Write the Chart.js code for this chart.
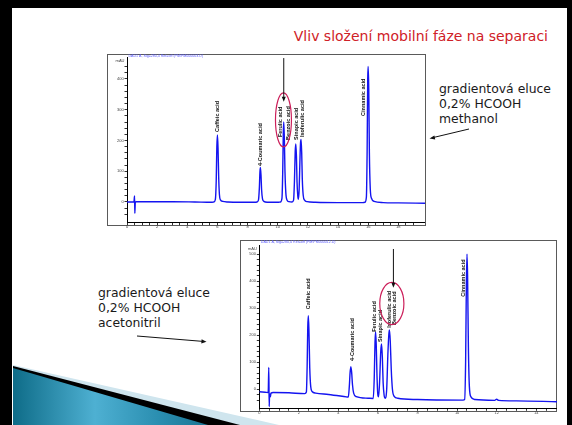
<!DOCTYPE html>
<html>
<head>
<meta charset="utf-8">
<script src="https://cdn.jsdelivr.net/npm/chart.js@4.4.1/dist/chart.umd.min.js"></script>
<style>
  html, body { margin: 0; padding: 0; background: #fff; }
  #slide { position: relative; width: 572px; height: 425px; overflow: hidden; background: #fff;
           font-family: "DejaVu Sans", Verdana, sans-serif; }
  .bar { position: absolute; background: #000; }
  #title { position: absolute; right: 24px; top: 29px; line-height: 15px; font-size: 14px;
           color: #cf2027; white-space: nowrap; }
  .note { position: absolute; font-size: 12.4px; line-height: 15px; color: #1a1a1a; white-space: nowrap; }
  .frame { position: absolute; border: 1px solid #5a5a5a; box-sizing: border-box; background: #fff; }
  canvas { position: absolute; }
  svg { position: absolute; left: 0; top: 0; }
</style>
</head>
<body>
<div id="slide">
  <svg width="572" height="425">
    <defs>
      <linearGradient id="teal" x1="0" y1="0" x2="1" y2="0">
        <stop offset="0" stop-color="#0e6c88"/>
        <stop offset="0.42" stop-color="#4eb0d2"/>
        <stop offset="0.75" stop-color="#2a8eb0"/>
        <stop offset="1" stop-color="#1b7593"/>
      </linearGradient>
    </defs>
    <polygon points="13,365 279,425 13,425" fill="#cfe5ee"/>
    <polygon points="13,366 240,425 13,425" fill="#000"/>
    <polygon points="13,368 208,425 13,425" fill="url(#teal)"/>
  </svg>

  <div class="bar" style="left:0;top:0;width:572px;height:8px"></div>
  <div class="bar" style="left:0;top:0;width:12px;height:425px"></div>
  <div class="bar" style="left:567px;top:0;width:5px;height:425px"></div>

  <div id="title">Vliv složení mobilní fáze na separaci</div>

  <div class="note" style="left:439px;top:81px">gradientová eluce<br>0,2% HCOOH<br>methanol</div>
  <div class="note" style="left:98px;top:285px">gradientová eluce<br>0,2% HCOOH<br>acetonitril</div>

  <div class="frame" style="left:107px;top:54px;width:319px;height:172px"></div>
  <div class="frame" style="left:240px;top:240px;width:317px;height:172px"></div>

  <canvas id="methanol" width="318" height="176" style="left:107px;top:54px"></canvas>
  <canvas id="acetonitrile" width="317" height="177" style="left:240px;top:240px"></canvas>

  <svg width="572" height="425" style="pointer-events:none">
    <line x1="469" y1="129" x2="433" y2="137.6" stroke="#111" stroke-width="1"/>
    <polygon points="429.5,138.4 434.4,135.4 435.2,139.4" fill="#111"/>
    <line x1="137" y1="336" x2="203" y2="341.4" stroke="#111" stroke-width="1"/>
    <polygon points="206.5,341.7 201.6,339.3 201.3,343.5" fill="#111"/>
  </svg>
</div>

<script>
// ---- Gradient elution, 0.2 % HCOOH / methanol ----
const time1 = [0, 0.3, 0.46, 0.5, 0.52, 0.55, 0.62, 1.5, 3, 4.5, 5.6,
  5.75, 5.86, 5.92, 5.96, 6.0, 6.04, 6.08, 6.13, 6.2, 6.35, 6.7, 7.5,
  8.5, 8.62, 8.72, 8.78, 8.82, 8.85, 8.89, 8.93, 8.99, 9.08, 9.3, 10.0,
  10.17, 10.28, 10.33, 10.37, 10.4, 10.44, 10.48, 10.54, 10.62, 10.75, 10.95,
  11.05, 11.11, 11.16, 11.2, 11.24, 11.28, 11.33, 11.37, 11.42, 11.47, 11.51, 11.55,
  11.59, 11.63, 11.69, 11.78, 11.95, 12.5, 14, 15.6,
  15.78, 15.88, 15.93, 15.97, 16.0, 16.04, 16.08, 16.14, 16.22, 16.4, 17, 18, 19.77];
const signal1 = [0, 0, 0, 20, -37, -1, 1, 1, 1, 0, -1,
  0, 8, 70, 180, 218, 175, 85, 25, 7, 2, 0, -1,
  -1, 0, 6, 45, 98, 112, 88, 40, 10, 2, -1, -1,
  0, 12, 95, 225, 260, 205, 100, 28, 6, 1, 0,
  6, 70, 165, 189, 150, 65, 20, 9, 40, 130, 190, 203,
  160, 75, 22, 6, 1, -1, -2, -2,
  -1, 15, 160, 400, 441, 365, 160, 42, 12, 2, -2, -3, -4];
const peakNames1 = ['Caffeic acid', '4-Coumaric acid', 'Ferulic acid', 'Benzoic acid',
  'Sinapic acid', 'Isoferulic acid', 'Cinnamic acid'];
const xTickLabels1 = ['0', '2', '4', '6', '8', '10', '12', '14', '16', '18'];
const yTickLabels1 = ['0', '100', '200', '300', '400'];

// ---- Gradient elution, 0.2 % HCOOH / acetonitrile ----
const time2 = [0, 0.3, 0.45, 0.48, 0.5, 0.52, 0.54, 0.56, 0.59, 0.7, 1.5, 2.3,
  2.38, 2.42, 2.45, 2.48, 2.51, 2.55, 2.6, 2.67, 2.85, 3.5, 4.4,
  4.5, 4.55, 4.59, 4.63, 4.67, 4.71, 4.77, 4.9, 5.5, 5.76,
  5.81, 5.85, 5.88, 5.91, 5.95, 5.99, 6.03,
  6.08, 6.14, 6.18, 6.22, 6.26, 6.31, 6.36,
  6.44, 6.5, 6.55, 6.58, 6.62, 6.67, 6.73, 6.82, 7.0, 8, 10.3,
  10.38, 10.43, 10.47, 10.5, 10.53, 10.57, 10.62, 10.7, 10.9, 11.9, 12.0, 12.1, 13, 15.05];
const signal2 = [-9, -11, -12, 81, -64, -20, -18, -28, -14, -12, -13, -16,
  -10, 90, 230, 273, 215, 80, 10, -8, -14, -19, -28,
  -29, 10, 62, 84, 62, 18, -14, -27, -33, -34,
  40, 175, 213, 170, 50, -18, -28,
  25, 140, 168, 120, 25, -22, -33,
  0, 130, 205, 220, 180, 75, 0, -26, -33, -38, -40,
  -38, 100, 400, 501, 420, 160, 10, -28, -38, -41, -37, -41, -43, -46];
const peakNames2 = ['Caffeic acid', '4-Coumaric acid', 'Ferulic acid', 'Sinapic acid',
  'Isoferulic acid', 'Benzoic acid', 'Cinnamic acid'];
const xTickLabels2 = ['0', '2', '4', '6', '8', '10', '12', '14'];
const yTickLabels2 = ['0', '100', '200', '300', '400', '500'];

// Where each rotated peak name sits, in axis units (time, signal at text start)
const labelSpots1 = [[5.98, 228], [8.83, 117], [10.16, 211], [10.69, 202], [11.22, 202], [11.62, 211], [15.68, 280]];
const labelSpots2 = [[2.48, 297], [4.73, 105], [5.80, 213], [6.14, 175], [6.58, 228], [6.82, 238], [10.32, 343]];

// Rotated peak names, the co-elution ring and its pointer arrow
const annotate = {
  id: 'annotate',
  afterDatasetsDraw(chart, args, o) {
    const { ctx } = chart;
    const x = chart.scales.x, y = chart.scales.y;
    ctx.save();

    ctx.font = '3.6px "Liberation Sans", Arial, sans-serif';
    ctx.fillStyle = '#5b5bff';
    ctx.textAlign = 'left';
    ctx.textBaseline = 'middle';
    ctx.fillText(o.header, x.left + 1.5, 1.8);

    ctx.fillStyle = '#444';
    ctx.font = '4px "Liberation Sans", Arial, sans-serif';
    ctx.textAlign = 'right';
    ctx.fillText('mAU', x.left - 2.5, y.top + 4);
    ctx.textAlign = 'center';
    ctx.textBaseline = 'top';
    ctx.fillText('min', x.right - 4, x.bottom + 1.6);

    ctx.fillStyle = '#111';
    ctx.font = 'bold 5.5px "Liberation Sans", Arial, sans-serif';
    ctx.textAlign = 'left';
    ctx.textBaseline = 'middle';
    o.names.forEach((name, i) => {
      const px = x.getPixelForValue(o.spots[i][0]);
      const py = y.getPixelForValue(o.spots[i][1]);
      ctx.save();
      ctx.translate(px, py);
      ctx.rotate(-Math.PI / 2);
      ctx.fillText(name, 0, 0);
      ctx.restore();
    });

    const ring = o.ring;
    const cx = x.getPixelForValue(ring.t), cy = y.getPixelForValue(ring.v);
    const rx = Math.abs(x.getPixelForValue(ring.t + ring.dt) - cx);
    const ry = Math.abs(y.getPixelForValue(ring.v + ring.dv) - cy);
    ctx.strokeStyle = '#cc1f5a';
    ctx.lineWidth = 1.2;
    ctx.beginPath();
    ctx.ellipse(cx, cy, rx, ry, 0, 0, Math.PI * 2);
    ctx.stroke();

    const ax = x.getPixelForValue(o.arrow.t);
    const ay1 = y.getPixelForValue(o.arrow.from), ay2 = y.getPixelForValue(o.arrow.to);
    ctx.strokeStyle = '#111';
    ctx.lineWidth = 1;
    ctx.beginPath();
    ctx.moveTo(ax, ay1);
    ctx.lineTo(ax, ay2 - 3);
    ctx.stroke();
    ctx.fillStyle = '#111';
    ctx.beginPath();
    ctx.moveTo(ax, ay2);
    ctx.lineTo(ax - 2, ay2 - 5);
    ctx.lineTo(ax + 2, ay2 - 5);
    ctx.closePath();
    ctx.fill();
    ctx.restore();
  }
};

function onStep(step) {
  return sc => {
    sc.ticks = sc.ticks.filter(tk => Math.abs(tk.value / step - Math.round(tk.value / step)) < 1e-6);
  };
}

function drawChromatogram(id, t, s, cfg) {
  const tickFont = { size: 4, family: '"Liberation Sans", Arial, sans-serif' };
  return new Chart(document.getElementById(id), {
    type: 'line',
    data: {
      datasets: [{
        data: t.map((v, i) => ({ x: v, y: s[i] })),
        borderColor: '#1414f0',
        borderWidth: 1.4,
        pointRadius: 0,
        cubicInterpolationMode: 'monotone',
        fill: false
      }]
    },
    options: {
      responsive: false,
      animation: false,
      devicePixelRatio: 1,
      layout: { padding: { top: cfg.padTop, left: 0, right: 0, bottom: 0 } },
      plugins: { legend: { display: false }, tooltip: { enabled: false }, annotate: cfg.notes },
      scales: {
        x: {
          type: 'linear', min: 0, max: cfg.xMax,
          ticks: {
            stepSize: 0.5, autoSkip: false, maxRotation: 0, padding: -0.8, color: '#444', font: tickFont,
            callback: v => cfg.xLabels.includes(String(v)) ? String(v) : ''
          },
          grid: { drawOnChartArea: false, drawTicks: true, tickLength: 2.5, color: '#000', lineWidth: 0.8 },
          border: { display: true, color: '#000', width: 1 },
          afterBuildTicks: onStep(0.5),
          afterFit: sc => { sc.height = cfg.xH; sc.paddingLeft = 0; sc.paddingRight = 0; }
        },
        y: {
          type: 'linear', min: cfg.yMin, max: cfg.yMax,
          ticks: {
            stepSize: 20, autoSkip: false, padding: 0.8, color: '#444', font: tickFont,
            callback: v => cfg.yLabels.includes(String(v)) ? String(v) : ''
          },
          grid: { drawOnChartArea: false, drawTicks: true, tickLength: 2.5, color: '#000', lineWidth: 0.8 },
          border: { display: true, color: '#000', width: 1 },
          afterBuildTicks: onStep(20),
          afterFit: sc => { sc.width = cfg.yW; sc.paddingTop = 0; sc.paddingBottom = 0; }
        }
      }
    },
    plugins: [annotate]
  });
}

drawChromatogram('methanol', time1, signal1, {
  xMax: 19.77, yMin: -67, yMax: 471.5, padTop: 3, yW: 20, xH: 7.4,
  xLabels: xTickLabels1, yLabels: yTickLabels1,
  notes: {
    header: 'DAD1 A, Sig=280,4 Ref=off (PM\\PM000003.D)',
    names: peakNames1, spots: labelSpots1,
    ring: { t: 10.38, v: 267, dt: 0.53, dv: 88 },
    arrow: { t: 10.40, from: 468, to: 326 }
  }
});

drawChromatogram('acetonitrile', time2, signal2, {
  xMax: 15.05, yMin: -70.4, yMax: 534.8, padTop: 5, yW: 19.3, xH: 8.7,
  xLabels: xTickLabels2, yLabels: yTickLabels2,
  notes: {
    header: 'DAD1 A, Sig=280,4 Ref=off (PM\\PM000012.D)',
    names: peakNames2, spots: labelSpots2,
    ring: { t: 6.70, v: 318, dt: 0.61, dv: 78 },
    arrow: { t: 6.78, from: 520, to: 376 }
  }
});
</script>
</body>
</html>
